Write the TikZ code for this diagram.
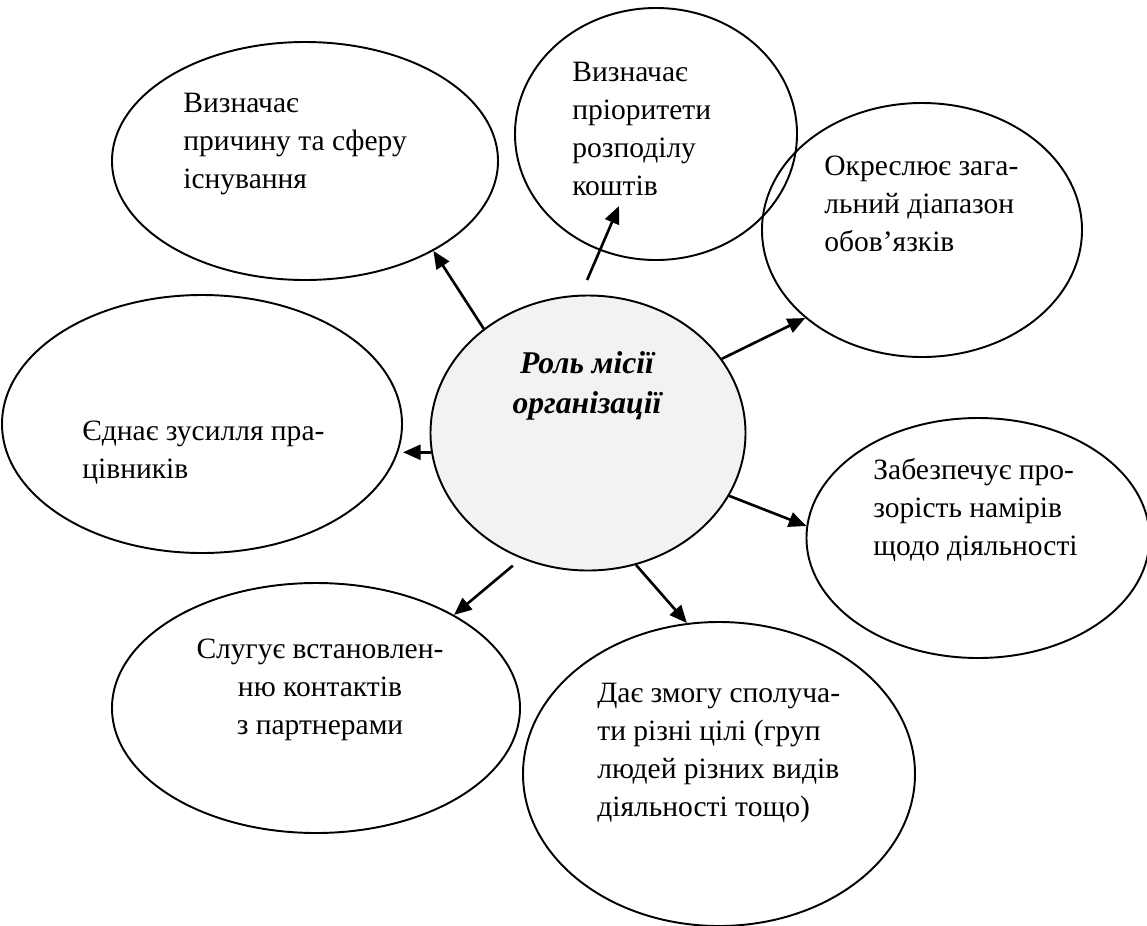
\documentclass[tikz,border=0pt]{standalone}
\usepackage{fontspec}
\setmainfont{Liberation Serif}
\usetikzlibrary{arrows.meta,shapes.geometric}
\definecolor{hub}{HTML}{F2F2F2}
\tikzset{
  oval/.style   ={draw, ellipse, line width=1.1pt, inner sep=0pt},
  hubnode/.style={oval, fill=hub},
  txt/.style    ={align=left, inner sep=0pt, anchor=base west,
                  font=\fontsize{16.8}{21.6}\selectfont},
  hubtxt/.style ={txt, align=center, anchor=base,
                  font=\fontsize{18}{22.2}\selectfont\bfseries\itshape},
  ar/.style     ={-{Triangle[length=10pt,width=8.5pt]}, line width=1.5pt},
}
\begin{document}
\begin{tikzpicture}[x=0.2mm,y=-0.2mm]
\useasboundingbox (0,0) rectangle (1147,926);
% centre
\node[hubnode, minimum width=63mm, minimum height=55mm] (hub) at (588,433) {};
\node[hubtxt] (hubt) at (587,413) {Роль місії\\організації};
% outer ovals
\node[oval, minimum width=77.2mm, minimum height=47.6mm] (cause) at (305,161) {};
\node[oval, minimum width=56.4mm, minimum height=50.4mm] (prior) at (656,134) {};
\node[oval, minimum width=64mm, minimum height=50.8mm] (range) at (922,230) {};
\node[oval, minimum width=80mm, minimum height=51.6mm] (unite) at (202,424) {};
\node[oval, minimum width=68.6mm, minimum height=48mm] (clear) at (978,538) {};
\node[oval, minimum width=81.6mm, minimum height=50mm] (contact) at (316,708) {};
\node[oval, minimum width=78.4mm, minimum height=60.8mm] (combine) at (719,774) {};
% texts (anchored at the baseline of the last line)
\node[txt] (causet) at (183,188) {Визначає\\причину та сферу\\існування};
\node[txt] (priort) at (572,195) {Визначає\\пріоритети\\розподілу\\коштів};
\node[txt] (ranget) at (824,251) {Окреслює зага-\\льний діапазон\\обов’язків};
\node[txt] (unitet) at (82,478) {Єднає зусилля пра-\\цівників};
\node[txt] (cleart) at (873,555) {Забезпечує про-\\зорість намірів\\щодо діяльності};
\node[txt, align=center, anchor=base] (contactt) at (320,734) {Слугує встановлен-\\ню контактів\\з партнерами};
\node[txt] (combinet) at (597,816) {Дає змогу сполуча-\\ти різні цілі (груп\\людей різних видів\\діяльності тощо)};
% arrows
\coordinate (priortip) at (619,206);
\draw[ar] (hub.135) -- (cause.-35);
\draw[ar, shorten <=3.2mm] (hub.93) -- (priortip);
\draw[ar] (hub.29.6) -- (range.217);
\draw[ar] (hub.187) -- (hub.187 -| unite.east);
\draw[ar] (hub.-24) -- (clear.176);
\draw[ar, shorten <=2.2mm] (hub.242) -- (contact.34);
\draw[ar] (hub.-70) -- (combine.102);
\end{tikzpicture}
\end{document}
